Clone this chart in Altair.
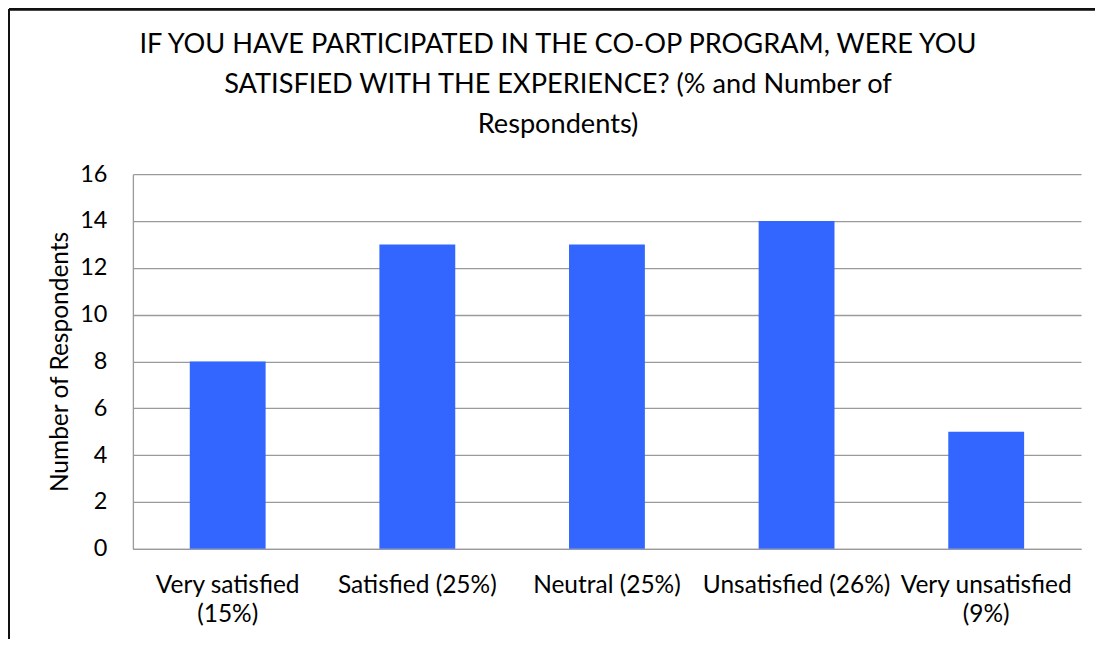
import altair as alt
import pandas as pd

categories = ["Very satisfied", "Satisfied", "Neutral", "Unsatisfied", "Very unsatisfied"]
percents = ["15%", "25%", "25%", "26%", "9%"]
wrap = [True, False, False, False, True]
counts = [8, 13, 13, 14, 5]
y_ticks = [0, 2, 4, 6, 8, 10, 12, 14, 16]
title_lines = [
    "IF YOU HAVE PARTICIPATED IN THE CO-OP PROGRAM, WERE YOU",
    "SATISFIED WITH THE EXPERIENCE? (% and Number of",
    "Respondents)",
]

labels = [f"{c}|({p})" if w else f"{c} ({p})" for c, p, w in zip(categories, percents, wrap)]
df = pd.DataFrame({"label": labels, "count": counts})

FONT = "Lato"
W, H = 949, 375
PAD_L, PAD_T = 125, 166

bars = alt.Chart(df).mark_bar(color="#3366FF").encode(
    x=alt.X(
        "label:N",
        sort=labels,
        title=None,
        scale=alt.Scale(paddingInner=0.6, paddingOuter=0.3),
        axis=alt.Axis(
            labelAngle=0,
            labelExpr="split(datum.label, '|')",
            labelFont=FONT,
            labelFontSize=24.5,
            labelColor="#000000",
            labelPadding=25,
            labelLineHeight=29,
            ticks=False,
            domainColor="#9A9A9A",
            domainWidth=1.3,
            labelLimit=400,
        ),
    ),
    y=alt.Y(
        "count:Q",
        title="Number of Respondents",
        scale=alt.Scale(domain=[0, 16], nice=False),
        axis=alt.Axis(
            values=y_ticks,
            ticks=False,
            labelFont=FONT,
            labelFontSize=23.5,
            labelColor="#000000",
            labelPadding=26,
            titleFont=FONT,
            titleFontSize=24.5,
            titleFontWeight="normal",
            titleColor="#000000",
            titlePadding=7,
            grid=True,
            gridColor="#9A9A9A",
            gridWidth=1.3,
            domainColor="#9A9A9A",
            domainWidth=1.3,
        ),
    ),
)

frame_top = alt.Chart(df).mark_rule(color="#111111", strokeWidth=2).encode(
    x=alt.value(-PAD_L + 1), x2=alt.value(W + 40), y=alt.value(-PAD_T + 1)
)
frame_left = alt.Chart(df).mark_rule(color="#111111", strokeWidth=2).encode(
    x=alt.value(-PAD_L + 1), y=alt.value(-PAD_T + 1), y2=alt.value(H + 200)
)

chart = alt.layer(bars, frame_top, frame_left).properties(
    width=W,
    height=H,
    autosize=alt.AutoSizeParams(type="none"),
    padding={"left": PAD_L, "top": PAD_T, "right": 14, "bottom": 90},
    title=alt.TitleParams(
        text=title_lines,
        font=FONT,
        fontSize=27.2,
        fontWeight="normal",
        color="#000000",
        lineHeight=40,
        anchor="middle",
        frame="group",
        dx=-49,
        offset=-131,
    ),
).configure_view(stroke=None)

chart.save("out.html", embed_options={"renderer": "svg", "actions": False})
